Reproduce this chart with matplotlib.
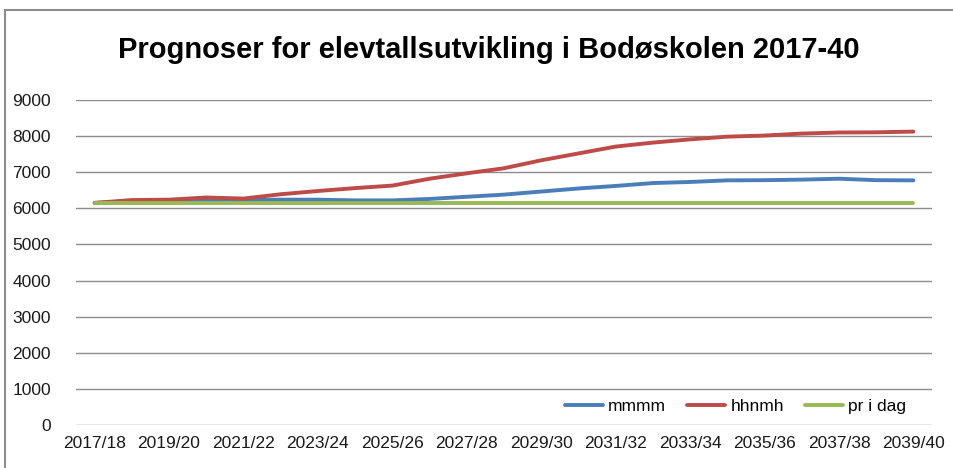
import matplotlib
matplotlib.use("Agg")
import matplotlib.pyplot as plt
from matplotlib.patches import Rectangle

plt.rcParams['font.family'] = ['Liberation Sans', 'DejaVu Sans']

categories = ["2017/18", "2018/19", "2019/20", "2020/21", "2021/22", "2022/23", "2023/24",
              "2024/25", "2025/26", "2026/27", "2027/28", "2028/29", "2029/30", "2030/31",
              "2031/32", "2032/33", "2033/34", "2034/35", "2035/36", "2036/37", "2037/38",
              "2038/39", "2039/40"]
mmmm = [6150, 6200, 6220, 6230, 6230, 6240, 6240, 6220, 6220, 6260, 6320, 6380, 6465,
        6550, 6620, 6700, 6730, 6775, 6780, 6795, 6820, 6780, 6775]
hhnmh = [6150, 6230, 6240, 6300, 6270, 6390, 6480, 6560, 6630, 6820, 6970, 7110, 7330,
         7520, 7710, 7820, 7910, 7985, 8015, 8070, 8100, 8105, 8125]
pr_i_dag = [6150] * 23
yticks = list(range(0, 9001, 1000))

fig = plt.figure(figsize=(9.54, 4.68), dpi=100)
fig.patches.append(Rectangle((5/954, -0.1), 1.2, 1 - 10/468 + 0.1, transform=fig.transFigure,
                             fill=False, edgecolor='#8c8c8c', linewidth=1.5))
ax = fig.add_axes([76/954, 1 - 425/468, (932 - 76)/954, (425 - 100)/468])

x = list(range(len(categories)))
ax.plot(x, mmmm, color='#4A7EBB', lw=2.8, label='mmmm', solid_capstyle='round')
ax.plot(x, hhnmh, color='#BE4B48', lw=2.8, label='hhnmh', solid_capstyle='round')
ax.plot(x, pr_i_dag, color='#98B954', lw=2.8, label='pr i dag', solid_capstyle='round')

ax.set_xlim(-0.5, len(categories) - 0.5)
ax.set_ylim(0, 9000)
ax.set_yticks(yticks)
ax.set_yticklabels([str(v) for v in yticks])
ax.set_xticks(x[::2])
ax.set_xticklabels(categories[::2])
ax.grid(axis='y', color='#8c8c8c', lw=1.0)
ax.set_axisbelow(True)
for s in ax.spines.values():
    s.set_visible(False)
ax.tick_params(axis='both', length=0, labelsize=12.5, colors='#1a1a1a')
ax.tick_params(axis='y', pad=18)
ax.tick_params(axis='x', pad=8)

leg = ax.legend(loc='lower right', bbox_to_anchor=(0.988, -0.015), ncol=3, frameon=False,
                fontsize=12.5, handlelength=2.2, handletextpad=0.3, columnspacing=1.2)

fig.text(489/954, 1 - 50/468, "Prognoser for elevtallsutvikling i Bodøskolen 2017-40",
         ha='center', va='center', fontsize=21, fontweight='bold', color='#000000')

fig.savefig("out.png", dpi=100)
